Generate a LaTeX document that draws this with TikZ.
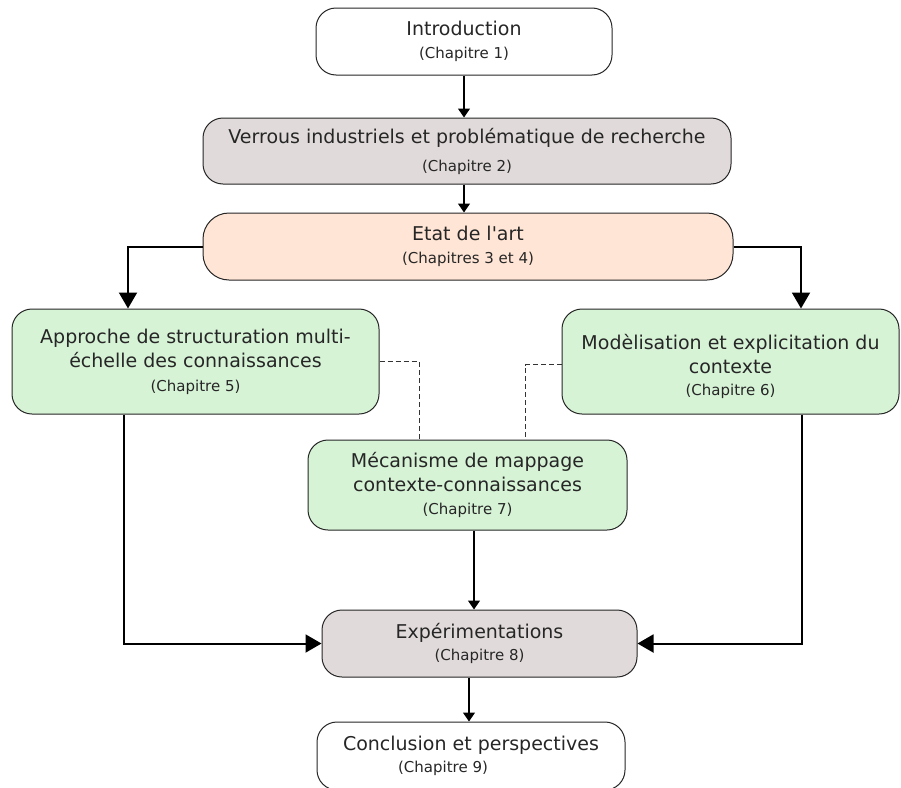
\documentclass[tikz,border=0pt]{standalone}
\usepackage{fontspec}
\setmainfont{DejaVu Sans}
\usetikzlibrary{arrows.meta}
\definecolor{graybox}{HTML}{E1DADA}
\definecolor{peach}{HTML}{FFE5D5}
\definecolor{greenbox}{HTML}{D7F3D6}
\newcommand{\mainf}{\fontsize{19}{24}\selectfont}
\newcommand{\subf}{\fontsize{15}{18}\selectfont}
\begin{document}
\begin{tikzpicture}[x=1pt,y=-1pt,
  box/.style={draw=black!85, line width=1pt, rounded corners=20pt, align=center,
    font=\mainf, inner sep=0pt, text=black!85},
  arr/.style={-{Triangle[width=12pt,length=9pt]}, line width=1.2pt},
  bigarr/.style={-{Triangle[width=18pt,length=16pt]}, line width=2pt},
  dashline/.style={dash pattern=on 5pt off 3pt, line width=0.9pt, draw=black!80}]
\clip (0,0) rectangle (901,787);
\fill[white] (0,0) rectangle (901,787);

\node[box, minimum width=296pt, minimum height=67pt] (intro) at (464,41.5)
  {Introduction\\[-1pt]{\subf (Chapitre 1)}};
\node[box, fill=graybox, minimum width=528pt, minimum height=66pt] (verrous) at (467,151)
  {Verrous industriels et problématique de recherche\\[4pt]{\subf (Chapitre 2)}};
\node[box, fill=peach, rounded corners=26pt, minimum width=530pt, minimum height=67pt] (etat) at (468,246.5)
  {Etat de l\textquotesingle art\\[-1pt]{\subf (Chapitres 3 et 4)}};
\node[box, fill=greenbox, minimum width=367pt, minimum height=105pt] (left) at (195.5,361.5)
  {Approche de structuration multi-\\échelle des connaissances\\{\subf (Chapitre 5)}};
\node[box, fill=greenbox, minimum width=337pt, minimum height=105pt] (right) at (730.5,361.5)
  {\mbox{}\\[2pt]Modèlisation et explicitation du\\contexte\\[-2pt]{\subf (Chapitre 6)}};
\node[box, fill=greenbox, minimum width=319pt, minimum height=90pt] (mid) at (467.5,485)
  {Mécanisme de mappage\\contexte-connaissances\\[-1pt]{\subf (Chapitre 7)}};
\node[box, fill=graybox, minimum width=315pt, minimum height=67pt] (expe) at (479.5,643.5)
  {Expérimentations\\[-2pt]{\subf (Chapitre 8)}};
\node[box, minimum width=308pt, minimum height=68pt] (concl) at (471,756)
  {Conclusion et perspectives\\[-2pt]\mbox{\subf (Chapitre 9)\hspace{56pt}}};

\draw[arr] (intro.south) -- (intro.south |- verrous.north);
\draw[arr] ([xshift=-3pt]verrous.south) -- ([xshift=-3pt]verrous.south |- etat.north);
\draw[bigarr] (etat.west) -| ([xshift=-67.5pt]left.north);
\draw[bigarr] (etat.east) -| ([xshift=70.5pt]right.north);
\draw[dashline] (left.east) -| ([xshift=-48.5pt]mid.north);
\draw[dashline] ([yshift=-3pt]right.west) -| ([xshift=57.5pt]mid.north);
\draw[bigarr] ([xshift=-71.5pt]left.south) |- (expe.west);
\draw[bigarr] ([xshift=71.5pt]right.south) |- (expe.east);
\draw[arr] ([xshift=6.5pt]mid.south) -- ([xshift=6.5pt]mid.south |- expe.north);
\draw[arr] ([xshift=-10.5pt]expe.south) -- ([xshift=-10.5pt]expe.south |- concl.north);
\end{tikzpicture}
\end{document}
